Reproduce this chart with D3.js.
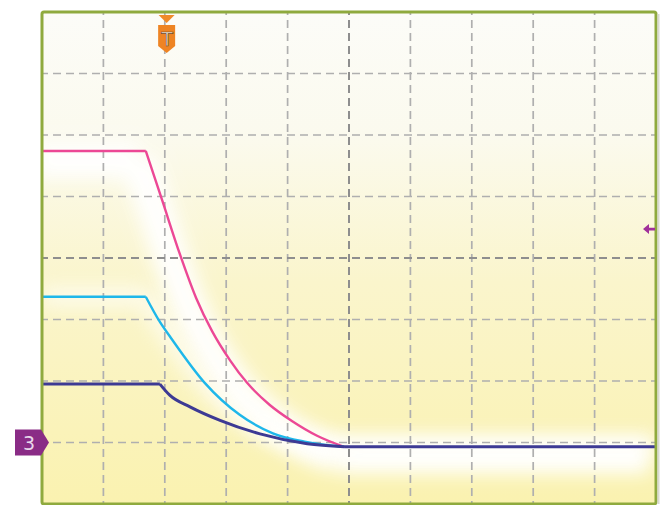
<!DOCTYPE html>
<html><head><meta charset="utf-8">
<script src="https://cdn.jsdelivr.net/npm/d3@7"></script>
<style>html,body{margin:0;padding:0;background:#fff;}svg{display:block;}</style>
</head><body>
<script>
// ---- data (divisions) ----
const xDivs = [0,1,2,3,4,5,6,7,8,9,10];
const yDivs = [0,1,2,3,4,5,6,7,8];
const baseline = 0.93;
const pinkFlat = [[0,5.74],[1.69,5.74]];
const pinkDecay = [[1.69,5.74],[1.95,4.96],[2.25,4.05],[2.51,3.35],[2.77,2.81],[3.06,2.34],[3.34,1.97],[3.71,1.61],[4.07,1.35],[4.48,1.11],[4.92,0.93]];
const cyanFlat = [[0,3.37],[1.69,3.37]];
const cyanDecay = [[1.69,3.37],[1.92,2.96],[2.10,2.70],[2.65,1.97],[3.22,1.45],[3.76,1.15],[4.30,1.01],[4.92,0.93]];
const navyFlat = [[0,1.95],[1.92,1.95]];
const navyDecay = [[1.92,1.95],[2.08,1.77],[2.41,1.58],[2.90,1.36],[3.55,1.14],[4.32,0.98],[4.92,0.93]];
const tailFlat = [[4.92,baseline],[10,baseline]];
const triggerX = 2.03;      // trigger marker position (div)
const groundLevel = 1;      // channel 3 marker level (div)
const refLevel = 4.47;      // right arrow level
const channelLabel = "3";
const triggerLabel = "T";

const W = 671, H = 505;
const L = 42, R = 656, T = 12, B = 504;
const x = d3.scaleLinear().domain([0,10]).range([L,R]);
const y = d3.scaleLinear().domain([0,8]).range([B,T]);

const svg = d3.select("body").append("svg").attr("width",W).attr("height",H);
const defs = svg.append("defs");
const bg = defs.append("linearGradient").attr("id","bg").attr("x1",0).attr("y1",0).attr("x2",0).attr("y2",1);
bg.append("stop").attr("offset","0%").attr("stop-color","#fcfcf8");
bg.append("stop").attr("offset","25%").attr("stop-color","#fbfaee");
bg.append("stop").attr("offset","55%").attr("stop-color","#faf5cc");
bg.append("stop").attr("offset","100%").attr("stop-color","#faf2b0");
const blur = defs.append("filter").attr("id","glow").attr("x","-20%").attr("y","-20%").attr("width","140%").attr("height","140%");
blur.append("feGaussianBlur").attr("stdDeviation",9);
const blur2 = defs.append("filter").attr("id","glow2").attr("x","-20%").attr("y","-50%").attr("width","140%").attr("height","200%");
blur2.append("feGaussianBlur").attr("stdDeviation",8);
defs.append("clipPath").attr("id","clip").append("rect").attr("x",L).attr("y",T).attr("width",R-L).attr("height",B-T);

// background
svg.append("rect").attr("x",L).attr("y",T).attr("width",R-L).attr("height",B-T).attr("fill","url(#bg)");

const plot = svg.append("g").attr("clip-path","url(#clip)");

const lin = d3.line().x(d=>x(d[0])).y(d=>y(d[1]));
const crv = d3.line().x(d=>x(d[0])).y(d=>y(d[1])).curve(d3.curveMonotoneX);
const pathOf = (flat, decay) => lin(flat) + crv(decay) + lin(tailFlat);

// glow behind traces
plot.append("path").attr("d",pathOf(pinkFlat,pinkDecay)).attr("fill","none")
  .attr("transform","translate(-7,9)")
  .attr("stroke","#ffffff").attr("stroke-width",36).attr("filter","url(#glow)").attr("opacity",0.95);
plot.append("path").attr("d",pathOf(cyanFlat,cyanDecay)).attr("fill","none")
  .attr("stroke","#ffffff").attr("stroke-width",20).attr("filter","url(#glow)").attr("opacity",0.6);
plot.append("path").attr("d",lin(tailFlat)).attr("fill","none")
  .attr("stroke","#ffffff").attr("stroke-width",34).attr("filter","url(#glow2)");

// grid
const g = plot.append("g");
g.selectAll("line.v").data(xDivs.slice(1,-1)).enter().append("line")
  .attr("x1",d=>x(d)).attr("x2",d=>x(d)).attr("y1",T).attr("y2",B)
  .attr("stroke",d=>d===5?"#8e8e8e":"#afafaf").attr("stroke-width",d=>d===5?2:1.7)
  .attr("stroke-dasharray","8,5").attr("stroke-dashoffset",-(T%13)+4);
g.selectAll("line.h").data(yDivs.slice(1,-1)).enter().append("line")
  .attr("x1",L).attr("x2",R).attr("y1",d=>y(d)).attr("y2",d=>y(d))
  .attr("stroke",d=>d===4?"#8e8e8e":"#afafaf").attr("stroke-width",d=>d===4?2:1.7)
  .attr("stroke-dasharray","8,5").attr("stroke-dashoffset",2);

// traces
const traces = [
  {flat:pinkFlat, decay:pinkDecay, color:"#ec4895", w:2.4},
  {flat:cyanFlat, decay:cyanDecay, color:"#1eb7ea", w:2.4},
  {flat:navyFlat, decay:navyDecay, color:"#3d3a94", w:3}
];
plot.selectAll("path.trace").data(traces).enter().append("path")
  .attr("d",d=>d===traces[2]? pathOf(d.flat,d.decay) : lin(d.flat)+crv(d.decay))
  .attr("fill","none").attr("stroke",d=>d.color).attr("stroke-width",d=>d.w)
  .attr("stroke-linejoin","round");

// frame
svg.append("rect").attr("x",L).attr("y",T).attr("width",R-L).attr("height",B-T)
  .attr("fill","none").attr("stroke","#8faa3e").attr("stroke-width",3).attr("rx",2);
svg.append("line").attr("x1",R+2.5).attr("x2",R+2.5).attr("y1",T+2).attr("y2",B)
  .attr("stroke","#d8d8d0").attr("stroke-width",2);

// trigger marker
const tx = x(triggerX);
svg.append("path").attr("d",`M${tx-8},${T+3}L${tx+8},${T+3}L${tx},${T+11}Z`).attr("fill","#f08a2a");
svg.append("path").attr("d",`M${tx-8.5},${T+13}L${tx+8.5},${T+13}L${tx+8.5},${T+34}L${tx},${T+41}L${tx-8.5},${T+34}Z`)
  .attr("fill","#ee8424");
svg.append("text").attr("x",tx+0.5).attr("y",T+34).attr("text-anchor","middle")
  .attr("font-family","DejaVu Sans, sans-serif").attr("font-size",19)
  .attr("fill","#f6efe4").attr("stroke","#6e4420").attr("stroke-width",0.7).text(triggerLabel);

// channel marker
const gy = y(groundLevel);
svg.append("path").attr("d",`M15,${gy-13}L41,${gy-13}L49,${gy}L41,${gy+13}L15,${gy+13}Z`).attr("fill","#8a2c86");
svg.append("text").attr("x",29).attr("y",gy+7).attr("text-anchor","middle")
  .attr("font-family","DejaVu Sans, sans-serif").attr("font-size",19)
  .attr("fill","#e8d8ea").text(channelLabel);

// right arrow
const ry = y(refLevel);
svg.append("path").attr("d",`M643,${ry}L649,${ry-5}L649,${ry-1.3}L655,${ry-1.3}L655,${ry+1.3}L649,${ry+1.3}L649,${ry+5}Z`)
  .attr("fill","#a0309a");
</script>
</body></html>
